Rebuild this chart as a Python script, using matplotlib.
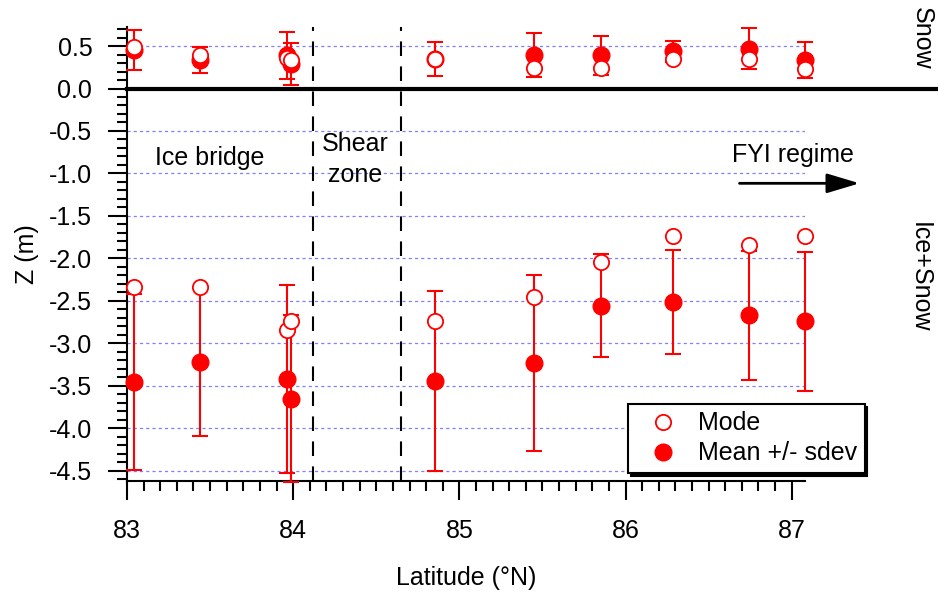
import matplotlib
matplotlib.use('Agg')
import matplotlib.pyplot as plt
from matplotlib.ticker import MultipleLocator, FormatStrFormatter

plt.rcParams['font.family'] = ['Liberation Sans', 'DejaVu Sans']
plt.rcParams['font.size'] = 18
plt.rcParams['axes.unicode_minus'] = False

# latitude of each site (deg N)
lat = [83.04, 83.44, 83.96, 83.985, 84.855, 85.45, 85.85, 86.285, 86.74, 87.08]

# snow layer (above zero line)
snow_mean = [0.453, 0.332, 0.389, 0.29, 0.347, 0.394, 0.39, 0.44, 0.47, 0.335]
snow_sd = [0.235, 0.153, 0.28, 0.25, 0.197, 0.255, 0.23, 0.125, 0.24, 0.215]
snow_mode = [0.49, 0.394, 0.356, 0.336, 0.344, 0.238, 0.238, 0.344, 0.344, 0.226]

# ice + snow (below zero line)
ice_mean = [-3.455, -3.22, -3.415, -3.65, -3.44, -3.23, -2.555, -2.515, -2.67, -2.74]
ice_sd = [1.035, 0.87, 1.105, 0.98, 1.06, 1.04, 0.605, 0.615, 0.76, 0.82]
ice_mode = [-2.34, -2.34, -2.84, -2.74, -2.74, -2.45, -2.04, -1.74, -1.84, -1.74]

shear_lat = [84.117, 84.65]

fig = plt.figure(figsize=(9.38, 5.92), dpi=100)
ax = fig.add_axes([127/938, 1 - 481/592, 678/938, (481 - 27)/592])

ax.set_xlim(83.0, 87.08)
ax.set_ylim(-4.62, 0.724)

# grid
ax.yaxis.grid(True, which='major', color='#8080ff', ls=(0, (2.5, 2.5)), lw=0.9)
ax.set_axisbelow(True)

# zero line running out to the right edge
ax.axhline(0, xmin=0, xmax=811/678, color='k', lw=3, clip_on=False, zorder=3)

# shear zone boundaries
for x in shear_lat:
    ax.axvline(x, color='k', lw=1.5, ls=(0, (7, 5)), zorder=2)

red = '#ff0000'
eb_kw = dict(fmt='o', color=red, ms=12, elinewidth=1.5, capsize=5.5,
             capthick=1.5, clip_on=False, zorder=4)
eb = ax.errorbar(lat, snow_mean, yerr=snow_sd, **eb_kw)
ax.errorbar(lat, ice_mean, yerr=ice_sd, **eb_kw)
for c in ax.containers:
    for ln in c.get_children():
        ln.set_clip_on(False)

mode_kw = dict(ls='none', marker='o', ms=11, mfc='white', mec=red, mew=1.3,
               clip_on=False, zorder=5)
mode_line, = ax.plot(lat, snow_mode, **mode_kw)
ax.plot(lat, ice_mode, **mode_kw)

# annotations
ax.text(83.5, -0.822, 'Ice bridge', ha='center', va='center')
ax.text(84.371, -0.832, 'Shear\nzone', ha='center', va='center', linespacing=1.35)
ax.text(87.009, -0.783, 'FYI regime', ha='center', va='center')
ax.annotate('', xy=(87.408, -1.116), xytext=(86.686, -1.116),
            arrowprops=dict(arrowstyle='-|>,head_length=1.0,head_width=0.3',
                            color='k', lw=2, mutation_scale=20, shrinkA=0, shrinkB=0),
            annotation_clip=False)

fig.text(0.983, 1 - 38/592, 'Snow', rotation=-90, ha='center', va='center', fontsize=18)
fig.text(0.981, 1 - 277/592, 'Ice+Snow', rotation=-90, ha='center', va='center', fontsize=18)

# axes styling
for s in ['top', 'right']:
    ax.spines[s].set_visible(False)
for s in ['left', 'bottom']:
    ax.spines[s].set_linewidth(1.5)

ax.xaxis.set_major_locator(MultipleLocator(1))
ax.xaxis.set_minor_locator(MultipleLocator(0.1))
ax.yaxis.set_major_locator(MultipleLocator(0.5))
ax.yaxis.set_minor_locator(MultipleLocator(0.1))
ax.yaxis.set_major_formatter(FormatStrFormatter('%.1f'))
ax.tick_params(which='major', length=14, width=1.5, direction='out')
ax.tick_params(which='minor', length=7, width=1.5, direction='out')
ax.tick_params(axis='x', which='major', pad=13)
ax.tick_params(axis='y', which='major', pad=11)
ax.tick_params(labelsize=18)

ax.set_xlabel('Latitude (°N)', fontsize=18, labelpad=17)
ax.set_ylabel('Z (m)', fontsize=18, labelpad=7)

leg = ax.legend([mode_line, eb.lines[0]], ['Mode', 'Mean +/- sdev'],
                loc='lower left', bbox_to_anchor=(628/938, 1 - 473/592),
                bbox_transform=fig.transFigure, borderaxespad=0,
                frameon=True, fancybox=False, shadow={'color': 'k', 'alpha': 1},
                edgecolor='k', framealpha=1, fontsize=18, handlelength=2.2,
                handletextpad=0.3, borderpad=0.3, labelspacing=0.25)
leg.get_frame().set_linewidth(1.5)

fig.savefig('out.png', dpi=100)
